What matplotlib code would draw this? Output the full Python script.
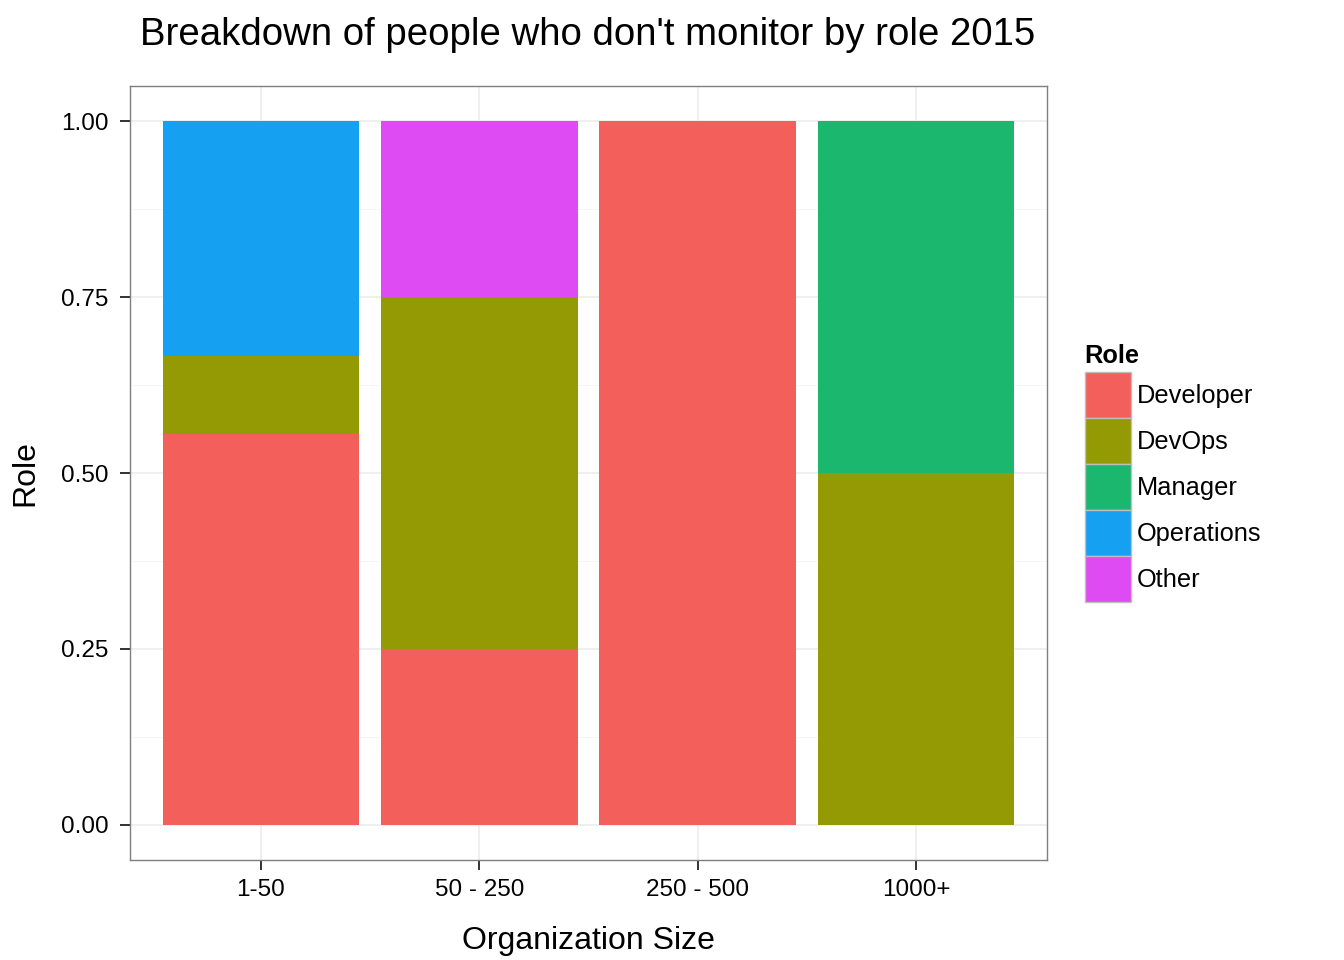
import numpy as np
import matplotlib.pyplot as plt
from matplotlib.patches import Patch
from matplotlib.ticker import MultipleLocator

plt.rcParams['font.family'] = ['Liberation Sans', 'DejaVu Sans']

sizes = ['1-50', '50 - 250', '250 - 500', '1000+']
roles = ['Developer', 'DevOps', 'Manager', 'Operations', 'Other']
colors = ['#F35F5B', '#939A03', '#1BB76E', '#16A0F2', '#DF4BF2']

# share of each role within each organization size
developer = [5/9, 0.25, 1.0, 0.0]
devops = [1/9, 0.50, 0.0, 0.5]
manager = [0.0, 0.0, 0.0, 0.5]
operations = [3/9, 0.0, 0.0, 0.0]
other = [0.0, 0.25, 0.0, 0.0]
shares = [developer, devops, manager, operations, other]

fig = plt.figure(figsize=(13.44, 9.6), dpi=100)
ax = fig.add_axes([130/1344, 100/960, 917/1344, 774/960])

x = np.arange(1, len(sizes) + 1)
bottom = np.zeros(len(sizes))
for role, vals, c in zip(roles, shares, colors):
    vals = np.array(vals)
    ax.bar(x, vals, width=0.9, bottom=bottom, color=c, linewidth=0, zorder=3)
    bottom += vals

ax.set_xlim(0.4, 4.6)
ax.set_ylim(-0.05, 1.05)
ax.set_xticks(x)
ax.set_xticklabels(sizes)
ax.set_yticks([0, 0.25, 0.5, 0.75, 1.0])
ax.set_yticklabels(['0.00', '0.25', '0.50', '0.75', '1.00'])
ax.yaxis.set_minor_locator(MultipleLocator(0.125))
ax.grid(which='major', color='#EBEBEB', linewidth=1.1, zorder=0)
ax.grid(which='minor', axis='y', color='#F5F5F5', linewidth=0.6, zorder=0)
ax.tick_params(which='major', length=7.5, width=1.4, color='#333333',
               labelsize=17.5, labelcolor='black', pad=8)
ax.tick_params(axis='x', pad=6.3)
ax.tick_params(which='minor', length=0)
for s in ax.spines.values():
    s.set_color('#7F7F7F')
    s.set_linewidth(1.0)

ax.set_xlabel('Organization Size', fontsize=23, labelpad=18)
ax.set_ylabel('Role', fontsize=23, labelpad=15)
fig.text(588/1344, 1 - 35/960, "Breakdown of people who don't monitor by role 2015",
         fontsize=27.6, ha='center', va='center')

handles = [Patch(facecolor=c, edgecolor='#BEBEBE', linewidth=1.0) for c in colors]
leg = fig.legend(handles, roles, loc='upper left', bbox_to_anchor=(1082/1344, 1 - 341/960),
                 title='Role', frameon=False, fontsize=18.3, title_fontsize=18.3,
                 handlelength=1.81, handleheight=2.41, handletextpad=0.24,
                 labelspacing=0.0, borderaxespad=0, borderpad=0.1)
leg.get_title().set_fontweight('bold')
leg._legend_box.align = 'left'
leg._legend_box.sep = 3

fig.savefig('out.png', dpi=100)
